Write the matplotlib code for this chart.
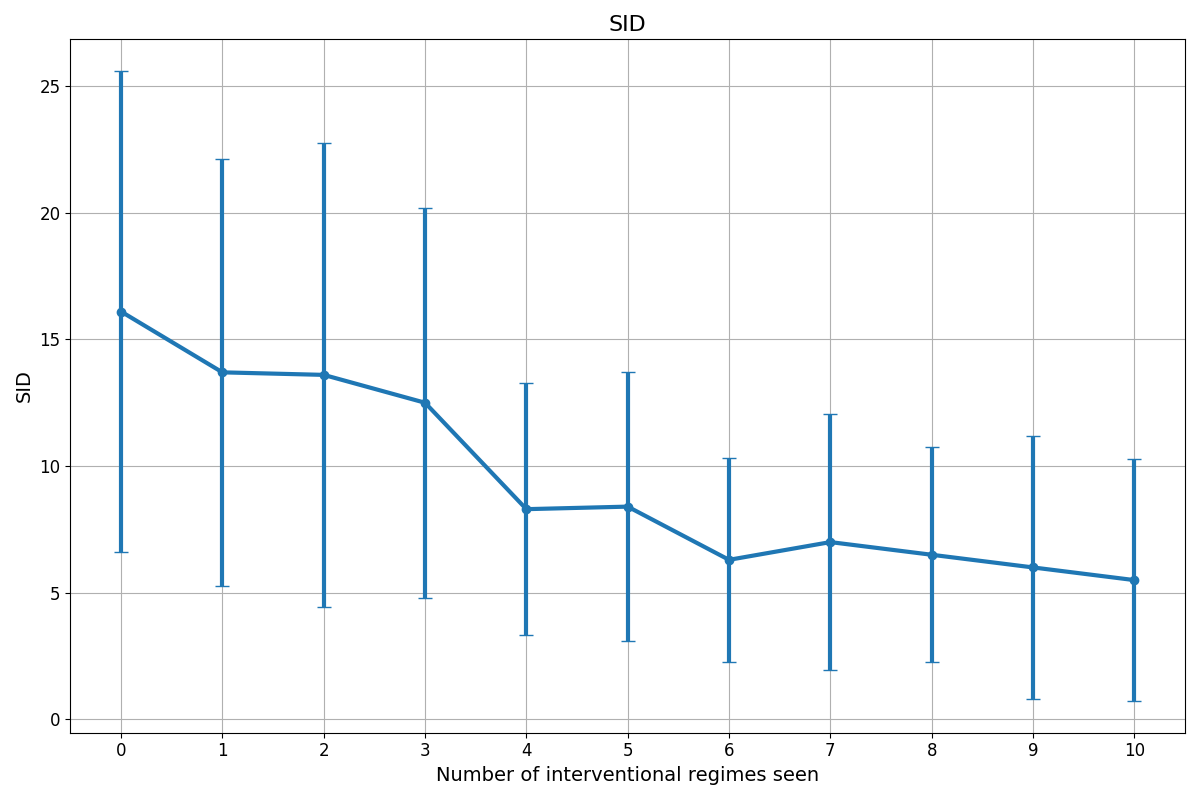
import matplotlib
matplotlib.use("Agg")
import matplotlib.pyplot as plt
import numpy as np

regimes = list(range(11))
sid_mean = [16.1, 13.7, 13.6, 12.5, 8.3, 8.4, 6.3, 7.0, 6.5, 6.0, 5.5]
sid_std = [9.5, 8.43, 9.17, 7.7, 4.97, 5.3, 4.03, 5.05, 4.25, 5.2, 4.78]

fig, ax = plt.subplots(figsize=(12, 8), dpi=100)
ax.errorbar(regimes, sid_mean, yerr=sid_std, fmt='-o', color='#1f77b4',
            linewidth=3, elinewidth=3, capsize=5, markersize=6)
ax.set_title("SID", fontsize=16)
ax.set_xlabel("Number of interventional regimes seen", fontsize=14)
ax.set_ylabel("SID", fontsize=14)
ax.set_xticks(regimes)
ax.tick_params(labelsize=12)
ax.grid(True)
fig.tight_layout()
fig.savefig("out.png")
